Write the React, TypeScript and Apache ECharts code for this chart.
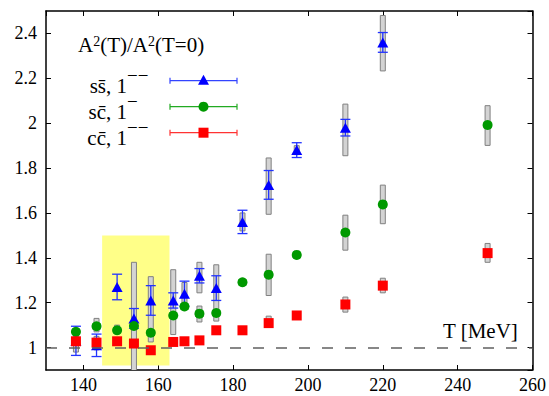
import React, { useEffect, useRef } from 'react';
import * as echarts from 'echarts';

// ---- data ----
const T_SS = [138, 143.5, 149, 153.5, 158, 164, 167, 171, 175.5, 182.5, 189.5, 197, 210, 220];
const V_SS = [1.03, 1.01, 1.27, 1.13, 1.21, 1.21, 1.24, 1.32, 1.265, 1.56, 1.725, 1.88, 1.98, 2.36];
const E_SS = [0.065, 0.05, 0.057, 0.044, 0.066, 0.034, 0.056, 0.032, 0.055, 0.052, 0.064, 0.033, 0.037, 0.044];

const T_SC = [138, 143.5, 149, 153.5, 158, 164, 167, 171, 175.5, 182.5, 189.5, 197, 210, 220, 248];
const V_SC = [1.07, 1.095, 1.077, 1.096, 1.066, 1.143, 1.183, 1.151, 1.154, 1.291, 1.325, 1.413, 1.513, 1.638, 1.992];
const E_SC = [0.012, 0.012, 0.012, 0.012, 0.012, 0.012, 0.012, 0.012, 0.012, 0.012, 0.012, 0.012, 0.012, 0.012, 0.012];

const T_CC = [138, 143.5, 149, 153.5, 158, 164, 167, 171, 175.5, 182.5, 189.5, 197, 210, 220, 248];
const V_CC = [1.028, 1.022, 1.028, 1.018, 0.988, 1.025, 1.028, 1.032, 1.077, 1.077, 1.109, 1.143, 1.192, 1.276, 1.421];
const E_CC = [0.008, 0.008, 0.008, 0.008, 0.008, 0.008, 0.008, 0.008, 0.008, 0.008, 0.008, 0.008, 0.008, 0.008, 0.008];

// systematic boxes (gray)
const BOX_T = [138, 143.5, 143.5, 149, 153.5, 158, 164, 167, 171, 171, 175.5, 182.5, 182.5, 189.5, 189.5, 189.5, 197, 197, 210, 210, 210, 220, 220, 220, 248, 248];
const BOX_LO = [0.98, 0.99, 1.07, 1.06, 0.85, 1.025, 1.058, 1.19, 1.244, 1.114, 1.118, 1.52, 1.275, 1.594, 1.232, 1.09, 1.86, 1.4, 1.855, 1.434, 1.158, 2.233, 1.552, 1.244, 1.901, 1.38];
const BOX_HI = [1.05, 1.05, 1.13, 1.1, 1.38, 1.316, 1.347, 1.29, 1.38, 1.185, 1.369, 1.6, 1.305, 1.845, 1.416, 1.14, 1.9, 1.43, 2.085, 1.59, 1.225, 2.48, 1.724, 1.309, 2.078, 1.464];

// highlighted band
const BAND_T = [145, 163];
const BAND_V = [0.92, 1.5];

const X_RANGE = [130, 260];
const Y_RANGE = [0.9, 2.5];
const REF_LEVEL = 1;

const SERIF = 'Liberation Serif';
const BLUE = '#0000ff';
const GREEN = '#009900';
const RED = '#ff0000';

const errRender = (color: string, cap: number, lw: number) => (params: any, api: any) => {
  const x = api.value(0), y = api.value(1), e = api.value(2);
  const lo = api.coord([x, y - e]);
  const hi = api.coord([x, y + e]);
  const st = { stroke: color, lineWidth: lw };
  return {
    type: 'group',
    children: [
      { type: 'line', shape: { x1: lo[0], y1: lo[1], x2: hi[0], y2: hi[1] }, style: st },
      { type: 'line', shape: { x1: lo[0] - cap, y1: lo[1], x2: lo[0] + cap, y2: lo[1] }, style: st },
      { type: 'line', shape: { x1: hi[0] - cap, y1: hi[1], x2: hi[0] + cap, y2: hi[1] }, style: st },
    ],
  };
};

const boxRender = (params: any, api: any) => {
  const x = api.value(0), lo = api.value(1), hi = api.value(2);
  const a = api.coord([x, hi]);
  const b = api.coord([x, lo]);
  return {
    type: 'rect',
    shape: { x: a[0] - 2.5, y: a[1], width: 5, height: b[1] - a[1] },
    style: { fill: '#d3d3d3', stroke: '#808080', lineWidth: 1 },
  };
};

const richMain = { fontFamily: SERIF, fontSize: 21, fill: '#000', lineHeight: 22 };
const richSup = { fontFamily: SERIF, fontSize: 14, fill: '#000', verticalAlign: 'top', lineHeight: 22, padding: [0, 0, 8, 0] };

const legendRow = (y: number, label: string, sup: string, color: string, lineColor: string, marker: any) => {
  const x1 = 170, x2 = 237, xm = 203.5;
  const st = { stroke: lineColor, lineWidth: 1.2 };
  return [
    {
      type: 'text', x: 127, y: y + 5,
      style: { text: label, fontFamily: SERIF, fontSize: 21, fill: '#000', align: 'right', verticalAlign: 'middle' },
    },
    {
      type: 'text', x: 127, y: y - 5,
      style: { text: sup, fontFamily: SERIF, fontSize: 19, fill: '#000', align: 'left', verticalAlign: 'middle' },
    },
    { type: 'line', shape: { x1, y1: y, x2, y2: y }, style: st },
    { type: 'line', shape: { x1, y1: y - 3, x2: x1, y2: y + 3 }, style: st },
    { type: 'line', shape: { x1: x2, y1: y - 3, x2, y2: y + 3 }, style: st },
    marker(xm, y, color),
  ];
};

export default function App() {
  const ref = useRef<HTMLDivElement>(null);
  useEffect(() => {
    if (!ref.current) return;
    const chart = echarts.init(ref.current, null, { renderer: 'svg' });
    const axisCommon = {
      type: 'value',
      axisLine: { show: true, onZero: false, lineStyle: { color: '#000', width: 1.5 } },
      axisTick: { show: true, inside: true, length: 5, lineStyle: { color: '#000', width: 1 } },
      splitLine: { show: false },
    };
    const labelStyle = { fontFamily: SERIF, fontSize: 18, color: '#000' };
    const option: any = {
      animation: false,
      backgroundColor: '#fff',
      grid: { left: 46, right: 16, top: 11, bottom: 26, containLabel: false },
      xAxis: [
        { ...axisCommon, position: 'bottom', min: X_RANGE[0], max: X_RANGE[1], splitNumber: 6,
          axisLabel: { ...labelStyle, margin: 6, showMinLabel: false } },
        { ...axisCommon, position: 'top', min: X_RANGE[0], max: X_RANGE[1], splitNumber: 6,
          axisLabel: { show: false } },
      ],
      yAxis: [
        { ...axisCommon, position: 'left', min: Y_RANGE[0], max: Y_RANGE[1], splitNumber: 8,
          axisLabel: { ...labelStyle, margin: 9, showMinLabel: false, showMaxLabel: false } },
        { ...axisCommon, position: 'right', min: Y_RANGE[0], max: Y_RANGE[1], splitNumber: 8,
          axisLabel: { show: false } },
      ],
      graphic: [
        {
          type: 'text', x: 78, y: 45,
          style: {
            text: '{n|A}{s|2}{n|(T)/A}{s|2}{n|(T=0)}',
            verticalAlign: 'middle',
            rich: { n: richMain, s: richSup },
          },
        },
        ...legendRow(80.7, 'ss\u0304, 1', '\u2212\u2212', BLUE, '#3344ff', (x: number, y: number, c: string) => ({
          type: 'polygon', shape: { points: [[x, y - 6], [x - 5.5, y + 4], [x + 5.5, y + 4]] }, style: { fill: c },
        })),
        ...legendRow(106.7, 'sc\u0304, 1', '\u2212', GREEN, '#22aa22', (x: number, y: number, c: string) => ({
          type: 'circle', shape: { cx: x, cy: y, r: 5 }, style: { fill: c },
        })),
        ...legendRow(132.7, 'cc\u0304, 1', '\u2212\u2212', RED, '#ff3333', (x: number, y: number, c: string) => ({
          type: 'rect', shape: { x: x - 5, y: y - 5, width: 10, height: 10 }, style: { fill: c },
        })),
        {
          type: 'text', x: 443, y: 331,
          style: { text: 'T [MeV]', fontFamily: SERIF, fontSize: 21, fill: '#000', verticalAlign: 'middle' },
        },
      ],
      series: [
        {
          type: 'scatter', data: [], z: 1, silent: true,
          markArea: {
            silent: true,
            itemStyle: { color: '#ffff88' },
            data: [[{ coord: [BAND_T[0], BAND_V[0]] }, { coord: [BAND_T[1], BAND_V[1]] }]],
          },
          markLine: {
            silent: true, symbol: 'none', label: { show: false },
            lineStyle: { color: '#606060', width: 1.5, type: [11, 12] },
            data: [{ yAxis: REF_LEVEL }],
          },
        },
        {
          type: 'custom', z: 2, clip: true, renderItem: boxRender,
          encode: { x: 0, y: [1, 2] },
          data: BOX_T.map((t, i) => [t, BOX_LO[i], BOX_HI[i]]),
        },
        {
          type: 'custom', z: 3, clip: true, renderItem: errRender('#2233ff', 5, 1.3),
          encode: { x: 0, y: 1 },
          data: T_SS.map((t, i) => [t, V_SS[i], E_SS[i]]),
        },
        {
          type: 'custom', z: 3, clip: true, renderItem: errRender('#44bb44', 4, 1.2),
          encode: { x: 0, y: 1 },
          data: T_SC.map((t, i) => [t, V_SC[i], E_SC[i]]),
        },
        {
          type: 'custom', z: 3, clip: true, renderItem: errRender('#ff7777', 4, 1.2),
          encode: { x: 0, y: 1 },
          data: T_CC.map((t, i) => [t, V_CC[i], E_CC[i]]),
        },
        {
          type: 'scatter', z: 4, symbol: 'triangle', symbolSize: [11, 10],
          itemStyle: { color: BLUE, opacity: 1 },
          data: T_SS.map((t, i) => [t, V_SS[i]]),
        },
        {
          type: 'scatter', z: 4, symbol: 'circle', symbolSize: 10,
          itemStyle: { color: GREEN, opacity: 1 },
          data: T_SC.map((t, i) => [t, V_SC[i]]),
        },
        {
          type: 'scatter', z: 4, symbol: 'rect', symbolSize: 10,
          itemStyle: { color: RED, opacity: 1 },
          data: T_CC.map((t, i) => [t, V_CC[i]]),
        },
      ],
    };
    chart.setOption(option);
    return () => chart.dispose();
  }, []);
  return <div ref={ref} style={{ width: 549, height: 396, position: 'absolute', left: 0, top: 0 }} />;
}
